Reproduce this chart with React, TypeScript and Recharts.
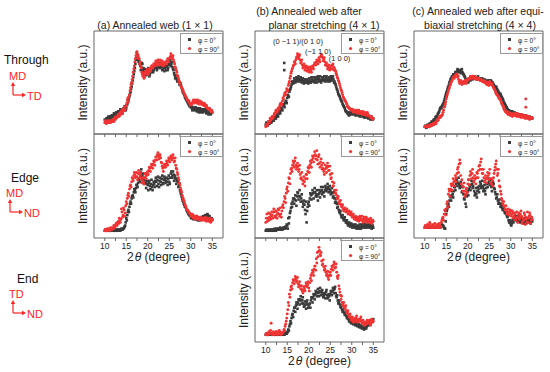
import React from 'react';
import { ScatterChart, Scatter, XAxis, YAxis, ReferenceArea } from 'recharts';

const FONT = '"Liberation Sans", Arial, Helvetica, sans-serif';
const GRAY = '#3a3a3a';
const RED = '#f03434';
const SIDE_RED = '#ff2424';

// 2θ (degree) sampling: main readings and in-between readings
const twoTheta = [10,10.25,10.5,10.75,11,11.25,11.5,11.75,12,12.25,12.5,12.75,13,13.25,13.5,13.75,14,14.25,14.5,14.75,15,15.25,15.5,15.75,16,16.25,16.5,16.75,17,17.25,17.5,17.75,18,18.25,18.5,18.75,19,19.25,19.5,19.75,20,20.25,20.5,20.75,21,21.25,21.5,21.75,22,22.25,22.5,22.75,23,23.25,23.5,23.75,24,24.25,24.5,24.75,25,25.25,25.5,25.75,26,26.25,26.5,26.75,27,27.25,27.5,27.75,28,28.25,28.5,28.75,29,29.25,29.5,29.75,30,30.25,30.5,30.75,31,31.25,31.5,31.75,32,32.25,32.5,32.75,33,33.25,33.5,33.75,34,34.25,34.5,34.75,35];
const twoThetaMid = [10.125,10.375,10.625,10.875,11.125,11.375,11.625,11.875,12.125,12.375,12.625,12.875,13.125,13.375,13.625,13.875,14.125,14.375,14.625,14.875,15.125,15.375,15.625,15.875,16.125,16.375,16.625,16.875,17.125,17.375,17.625,17.875,18.125,18.375,18.625,18.875,19.125,19.375,19.625,19.875,20.125,20.375,20.625,20.875,21.125,21.375,21.625,21.875,22.125,22.375,22.625,22.875,23.125,23.375,23.625,23.875,24.125,24.375,24.625,24.875,25.125,25.375,25.625,25.875,26.125,26.375,26.625,26.875,27.125,27.375,27.625,27.875,28.125,28.375,28.625,28.875,29.125,29.375,29.625,29.875,30.125,30.375,30.625,30.875,31.125,31.375,31.625,31.875,32.125,32.375,32.625,32.875,33.125,33.375,33.625,33.875,34.125,34.375,34.625,34.875];
const xTicks = [10, 12.5, 15, 17.5, 20, 22.5, 25, 27.5, 30, 32.5, 35];
const legendLabels = ['φ = 0°', 'φ = 90°'];

// (a) Annealed web — Through
const a1Gray = [14,12,15,16,15,17,16,18,17,19,18,20, 19,21,22,21,23,24,23,26,25,29,33,37, 41,46,52,58,64,72,78,75,72,66,65,68, 64,60,61,58,60,62,58,63,62,60,64,66, 67,64,66,68,65,67,63,66,64,62,66,64, 67,70,68,65,62,57,55,53,54,51,50,47, 43,40,38,35,33,31,29,27,26,25,24,25, 24,25,23,24,23,24,22,23,24,22,23,21, 22,20,21,20,21];
const a1GrayMid = [11,15,13,17,14,15,18,16,20,17,21,18, 22,20,24,22,20,25,27,23,28,31,35,39, 44,49,55,61,68,75,72,70,68,62,69,62, 58,63,57,61,64,56,61,60,64,62,67,64, 62,69,65,64,69,62,65,61,67,65,62,68, 72,66,70,63,59,54,57,51,52,48,49,45, 41,39,36,34,32,30,28,28,27,23,26,23, 26,22,25,21,25,21,24,21,23,24,20,22, 19,22,19,22];
const a1Red = [11,12,11,13,11,12,13,12,13,15,14,17, 17,18,20,19,23,22,25,24,28,33,31,38, 45,50,56,63,70,76,80,77,73,70,64,58, 57,55,61,59,62,60,64,63,66,65,67,69, 70,68,71,69,70,68,69,67,68,70,71,72, 73,75,76,74,72,68,64,60,56,52,49,46, 44,42,39,37,35,33,31,30,28,29,31,32, 32,31,32,30,31,30,31,29,28,29,27,26, 25,24,23,22,21];
const a1RedMid = [13,10,12,11,13,11,12,14,12,16,15,16, 19,17,21,22,20,24,23,27,30,35,36,42, 48,53,60,66,73,79,75,74,68,66,60,56, 54,59,58,63,58,63,61,66,64,68,66,71, 67,72,67,72,67,71,66,69,70,68,73,70, 74,78,73,76,70,65,62,57,54,50,47,45, 43,40,38,36,34,32,32,29,30,30,33,30, 33,30,33,29,32,29,30,28,30,27,28,25, 24,25,22,23];
// (a) Edge
const a2Gray = [7,7,8,7,7,8,7,7, 7,8,7,8,8,7,8,8, 8,9,10,12,19,22,27,30, 35,38,41,44,46,48,51,53, 56,60,66,60,57,55,53,52, 51,53,50,52,49,51,52,55, 54,56,52,55,54,57,53,56, 57,55,54,57,54,58,64,60, 61,58,57,55,54,50,46,42, 38,35,32,30,27,25,23,22, 20,21,19,20,19,20,18,19, 18,19,19,20,19,21,20,22, 22,20,19,18,18];
const a2GrayMid = [8,7,7,8,7,7,8,7, 8,7,8,7,8,8,7,9, 8,9,11,15,17,25,25,33, 33,40,39,47,44,51,49,57, 54,63,58,62,52,58,48,55, 46,55,47,56,46,54,49,58, 50,59,49,58,51,60,52,59, 53,58,51,60,52,62,58,64, 55,60,52,57,49,52,44,40, 36,33,30,29,26,24,22,23, 19,22,18,21,18,21,17,20, 17,20,18,21,18,22,19,23, 20,21,17,19];
const a2Red = [7,8,7,8,9,8,9,10, 9,11,12,13,15,14,17,18, 25,22,27,24,35,38,43,47, 51,54,57,60,61,59,59,62, 62,60,57,55,54,58,61,60, 64,65,67,68,70,71,73,75, 78,80,79,78,77,72,67,68, 70,71,72,74,75,77,78,77, 77,74,70,66,61,56,51,46, 41,38,35,31,28,27,25,24, 22,21,22,20,20,19,20,19, 19,18,19,18,18,19,18,17, 18,17,18,16,17];
const a2RedMid = [8,7,9,8,7,10,8,9, 12,10,14,12,16,19,15,28, 20,29,21,31,33,41,40,50, 49,58,55,63,58,63,56,65, 58,63,53,58,52,62,57,63, 61,68,64,71,67,74,70,78, 75,82,76,80,73,69,64,71, 68,74,70,77,73,79,75,80, 73,77,67,63,58,53,48,44, 39,36,33,30,27,26,24,23, 21,23,19,21,18,21,18,20, 17,20,17,19,17,20,16,19, 16,19,15,18];
// (b) planar stretching — Through
const b1Gray = [9,10,9,11,12,11,13,14, 15,16,17,18,20,21,23,24, 27,28,30,32,35,37,41,44, 48,50,51,52,52,53,54,53, 52,53,52,51,51,52,50,51, 51,52,50,53,52,51,53,52, 53,54,53,52,52,54,53,51, 54,53,52,53,52,54,54,53, 51,48,44,41,38,36,33,31, 28,26,23,22,20,19,19,20, 20,21,20,20,20,19,20,19, 19,18,19,18,18,17,18,17, 16,16,15,15,15];
const b1GrayMid = [11,8,12,10,13,12,15,13, 17,15,19,17,22,20,25,23, 29,26,32,30,38,36,43,46, 51,49,54,50,55,51,56,51, 55,50,54,49,53,50,53,49, 54,50,55,51,55,50,55,50, 56,51,56,50,55,52,56,52, 56,51,55,51,56,52,56,50, 49,46,43,39,37,34,32,29, 27,25,22,21,21,18,21,19, 22,19,22,18,21,18,21,17, 20,17,20,16,19,16,19,15, 17,14,16,14];
const b1Red = [7,9,10,12,15,14,17,16, 20,21,23,22,25,27,30,29, 35,37,40,41,43,47,51,56, 61,64,67,70,72,75,77,75, 72,70,67,66,65,64,64,63, 62,63,62,64,65,67,69,70, 70,71,72,75,77,74,72,70, 67,66,65,64,64,66,67,65, 64,61,57,54,51,47,43,40, 36,34,32,30,27,26,25,24, 23,23,22,22,22,21,22,21, 21,20,21,20,20,19,20,19, 18,17,16,15,15];
const b1RedMid = [9,8,12,11,13,16,15,18, 19,23,21,25,24,29,28,32, 34,39,38,44,42,49,54,59, 63,66,70,68,74,78,73,77, 69,72,64,68,62,66,61,65, 60,65,60,66,63,69,67,72, 68,74,70,77,75,71,74,67, 69,63,67,62,66,63,68,62, 62,59,55,52,49,45,42,38, 35,33,31,29,26,25,24,23, 24,21,23,21,23,20,23,20, 22,19,22,19,21,18,21,18, 17,16,17,14];
const b1GrayExtraX = [14.3, 14.3];
const b1GrayExtraY = [69, 62];
// (b) Edge
const b2Gray = [7,7,8,7,7,8,7,8, 8,8,9,8,9,9,8,9, 9,10,9,10,12,19,20,26, 33,35,38,37,36,40,43,40, 40,38,35,33,32,23,15,30, 35,38,41,42,43,44,44,42, 40,42,43,45,46,44,44,46, 48,47,49,47,46,44,43,40, 38,35,33,30,27,24,22,20, 19,18,17,15,14,13,13,12, 12,11,12,11,10,11,10,11, 10,11,12,11,12,11,12,11, 11,12,11,10,10];
const b2GrayMid = [8,7,7,8,8,7,8,7, 9,7,8,9,8,10,9,8, 10,9,11,13,9,14,24,29, 30,38,33,41,31,44,37,46, 35,42,30,36,27,35,26,33, 31,43,37,46,38,48,40,46, 36,46,39,49,42,49,40,50, 45,52,44,50,42,48,39,44, 34,38,29,33,25,26,20,22, 17,20,15,17,12,15,11,14, 10,13,10,13,9,12,9,13, 9,13,10,14,10,13,10,13, 10,13,9,12];
const b2Red = [15,23,19,17,23,21,22,25, 25,20,22,24,27,21,23,26, 32,35,38,43,49,53,57,62, 67,70,72,74,70,68,69,66, 61,58,56,55,54,57,61,64, 67,70,72,75,77,79,80,79, 75,78,72,73,70,67,64,66, 67,68,69,65,61,58,54,50, 46,43,41,38,35,33,32,30, 28,27,27,26,25,24,24,23, 22,21,20,19,19,18,17,19, 19,18,17,18,19,17,18,16, 17,18,16,15,16];
const b2RedMid = [19,16,24,20,18,25,19,28, 21,26,19,28,23,29,20,30, 29,40,34,47,45,58,52,66, 64,74,68,77,66,72,64,70, 57,63,52,59,50,61,57,68, 63,74,68,79,73,83,76,84, 71,80,68,76,66,72,61,70, 63,72,65,69,57,62,50,53, 43,46,38,40,33,36,30,32, 26,29,25,28,23,26,22,25, 20,23,18,21,17,20,16,21, 17,21,15,20,16,20,15,18, 15,19,14,17];
// (b) End
const b3Gray = [7,7,7,7,7,7,7,7, 7,7,7,7,7,7,7,8, 7,8,8,8,9,12,15,20, 23,27,30,33,35,36,38,40, 41,40,40,37,35,36,38,36, 33,37,40,42,43,45,46,47, 48,47,49,48,48,46,44,46, 48,45,43,44,46,48,49,50, 51,47,43,40,38,36,33,31, 30,28,27,25,23,22,20,19, 19,18,18,17,17,16,16,15, 15,14,14,13,13,14,15,17, 17,19,20,21,22];
const b3GrayMid = [8,7,8,7,8,7,8,7, 8,7,8,7,8,7,8,7, 8,7,9,8,10,11,17,18, 26,24,33,29,38,32,41,36, 44,37,43,34,39,32,40,33, 36,33,43,38,46,41,49,44, 51,44,52,45,50,43,47,42, 50,42,46,40,49,45,52,47, 53,44,45,37,40,34,35,29, 32,26,29,23,25,20,22,18, 20,17,19,16,18,15,17,14, 16,13,15,12,14,13,16,16, 18,18,21,20];
const b3Red = [7,8,7,10,8,18,7,10, 7,8,10,7,8,10,7,8, 9,12,15,20,27,38,46,50, 54,57,59,60,61,59,56,55, 54,51,49,50,51,54,56,55, 52,57,64,66,67,70,73,80, 86,87,88,83,78,75,72,70, 67,65,62,64,67,70,72,74, 75,72,67,61,54,48,41,38, 36,34,33,30,28,26,25,23, 22,21,20,22,23,21,20,22, 22,20,19,18,17,19,18,20, 19,18,20,21,20];
const b3RedMid = [8,7,9,8,11,8,9,8, 8,10,8,9,11,8,9,8, 10,11,17,23,31,35,43,53, 51,60,56,63,58,62,53,58, 51,54,47,53,49,57,53,58, 49,61,59,69,64,73,69,76, 82,91,84,86,74,79,69,73, 64,68,60,67,64,73,69,77, 71,75,63,64,51,45,44,35, 38,32,35,28,30,24,27,21, 24,19,23,20,25,19,22,20, 24,18,21,16,19,17,21,18, 21,16,22,19];
// (c) equi-biaxial stretching — Through
const c1Gray = [7,7,8,8,9,10,11,12, 13,14,16,17,19,21,24,26, 27,29,32,36,40,43,46,50, 53,55,56,57,58,60,61,62, 60,61,62,60,58,56,53,52, 51,52,53,54,54,55,55,54, 54,55,54,53,53,53,52,52, 51,51,50,51,52,51,51,50, 48,46,45,44,42,40,38,37, 35,33,30,28,26,24,22,22, 22,21,20,20,19,19,19,18, 19,18,18,17,18,17,17,16, 17,16,16,16,15];
const c1GrayMid = [8,6,9,7,10,9,12,11, 14,13,17,16,20,22,25,25, 28,30,34,38,41,45,48,51, 54,56,58,56,60,59,63,61, 62,59,63,59,57,55,52,53, 50,53,52,55,53,56,54,55, 53,56,53,54,52,54,51,53, 50,52,49,52,51,52,50,49, 47,45,46,43,41,39,39,36, 34,31,29,27,25,23,23,21, 21,22,19,21,18,20,18,19, 18,19,17,18,17,18,16,17, 16,17,15,16];
const c1Red = [7,7,7,7,8,8,9,9, 10,10,11,12,14,15,17,17, 18,21,26,29,34,38,42,45, 48,51,54,55,56,57,58,56, 51,50,50,49,51,50,50,51, 53,54,54,55,55,55,55,54, 54,54,53,53,52,52,51,51, 50,49,49,48,50,49,48,47, 45,43,40,38,37,35,34,31, 29,27,24,22,21,20,20,19, 19,18,19,19,19,18,19,18, 18,17,18,17,17,16,17,16, 16,15,15,16,16];
const c1RedMid = [7,8,7,8,7,9,8,10, 9,11,10,13,13,16,16,18, 19,23,27,31,36,40,44,47, 50,52,55,54,57,58,55,53, 49,52,48,50,49,52,49,52, 54,53,56,54,56,54,56,53, 55,53,54,52,53,51,52,50, 51,48,50,47,51,48,49,46, 44,42,39,38,36,34,33,30, 28,25,23,21,22,19,21,18, 20,17,20,18,20,17,20,17, 19,16,19,16,18,15,18,15, 17,14,16,15];
const c1RedExtraX = [33.5, 33.5];
const c1RedExtraY = [34, 26];
// (c) Edge
const c2Gray = [10,10,10,10,10,10,10,10, 10,10,10,10,11,10,11,11, 13,12,10,9,23,28,33,36, 39,41,42,45,49,52,55,53, 52,50,49,45,42,37,33,40, 45,47,49,51,52,50,45,43, 42,45,47,50,52,50,49,47, 45,48,52,53,55,52,49,50, 52,47,42,39,36,34,33,31, 29,28,26,24,23,20,17,15, 13,14,18,19,20,19,18,19, 18,17,18,17,16,17,16,17, 17,16,17,16,16];
const c2GrayMid = [10,10,10,10,10,10,10,10, 10,10,10,11,10,11,10,12, 12,11,9,16,26,31,30,40, 36,45,39,49,46,56,50,58, 48,54,44,49,38,42,30,44, 41,51,46,55,48,54,41,48, 39,49,44,54,48,55,45,51, 42,52,49,57,51,56,45,54, 48,44,38,42,33,37,30,33, 27,30,24,26,21,22,15,17, 12,16,15,21,17,21,16,21, 15,19,15,19,14,19,14,19, 15,18,14,18];
const c2Red = [10,10,10,12,12,14,10,10, 13,10,11,10,13,10,12,11, 17,20,23,26,28,35,42,45, 47,50,52,54,55,58,62,68, 71,72,52,50,49,45,42,48, 52,56,60,61,62,58,55,57, 58,62,65,70,73,66,62,58, 55,57,58,60,62,57,52,55, 58,65,71,66,62,55,49,42, 36,32,30,28,26,25,25,24, 26,23,24,21,23,19,20,22, 18,23,21,16,17,22,20,15, 15,21,22,17,18];
const c2RedMid = [12,10,13,10,15,10,12,10, 11,14,10,12,10,14,10,15, 19,17,27,22,33,30,47,40, 52,46,57,50,60,54,66,63, 75,60,56,45,53,40,47,44, 56,51,64,57,66,54,60,52, 63,58,69,66,76,62,66,54, 60,53,63,56,66,53,57,50, 62,68,74,60,66,50,45,38, 33,35,27,31,23,28,22,27, 21,26,19,24,17,25,15,24, 20,26,14,19,24,13,18,25, 19,24,14,20];

const PW = 129;

type Pt = { x: number; y: number };
const toPoints = (xs: number[], ys: number[]): Pt[] => ys.map((y, i) => ({ x: xs[i], y }));

const SquareShape = (props: any) => (
  <rect x={props.cx - 1.3} y={props.cy - 1.3} width={2.6} height={2.6} fill={GRAY} />
);
const CircleShape = (props: any) => (
  <circle cx={props.cx} cy={props.cy} r={1.45} fill={RED} />
);

const XLabel = (props: any) => {
  const vb = props.viewBox || { x: 0, y: 0, width: 0 };
  return (
    <text x={vb.x + vb.width / 2} y={vb.y + 23} textAnchor="middle" fontSize={12} fill="#222" fontFamily={FONT}>
      2<tspan dx={1} fontStyle="italic">θ</tspan> (degree)
    </text>
  );
};

type PanelProps = {
  left: number; top: number; h: number;
  gray: number[]; grayMid: number[]; red: number[]; redMid: number[]; bottom?: boolean;
  grayExtra?: Pt[]; redExtra?: Pt[];
};

function Panel({ left, top, h, gray, grayMid, red, redMid, bottom, grayExtra, redExtra }: PanelProps) {
  const ML = 22, MR = 2, MT = 1;
  const axisH = bottom ? 30 : 5;
  const grayPts = [...toPoints(twoTheta, gray), ...toPoints(twoThetaMid, grayMid), ...(grayExtra || [])];
  const redPts = [...toPoints(twoTheta, red), ...toPoints(twoThetaMid, redMid), ...(redExtra || [])];
  return (
    <div style={{ position: 'absolute', left: left - ML, top: top - MT }}>
      <ScatterChart width={ML + PW + MR} height={MT + h + axisH} margin={{ top: MT, right: MR, left: 0, bottom: 0 }}>
        <XAxis
          type="number" dataKey="x" domain={[7.5, 37.5]} ticks={xTicks} interval={0}
          tickSize={3} tickMargin={2} height={axisH} axisLine={false}
          tickLine={{ stroke: '#666' }}
          tick={{ fontSize: 8.5, fill: '#222', fontFamily: FONT }}
          tickFormatter={(v: number) => (bottom && v % 5 === 0 ? String(v) : '')}
          label={bottom ? (p: any) => <XLabel {...p} /> : undefined}
        />
        <YAxis
          type="number" dataKey="y" domain={[0, 100]} width={ML} tick={false} axisLine={false} tickLine={false}
          label={{ value: 'Intensity (a.u.)', angle: -90, position: 'center', fontSize: 12, fill: '#222', fontFamily: FONT }}
        />
        <ReferenceArea x1={7.5} x2={37.5} y1={0} y2={100} fill="none" stroke="#666" strokeWidth={1} />
        <Scatter data={grayPts} shape={SquareShape} isAnimationActive={false} />
        <Scatter data={redPts} shape={CircleShape} isAnimationActive={false} />
      </ScatterChart>
    </div>
  );
}

const panelFrames = [
  { left: 94, top: 31, h: 103 },
  { left: 94, top: 134, h: 104 },
  { left: 255, top: 31, h: 103 },
  { left: 255, top: 134, h: 104 },
  { left: 255, top: 238, h: 104 },
  { left: 414, top: 31, h: 103 },
  { left: 414, top: 134, h: 104 },
];

function LegendBox({ left, top }: { left: number; top: number }) {
  const bx = left + PW - 43, by = top + 2;
  return (
    <g>
      <rect x={bx + 0.5} y={by + 0.5} width={42} height={20} fill="#fff" stroke="#999" />
      <rect x={bx + 8} y={by + 5} width={3} height={3} fill={GRAY} />
      <text x={bx + 18} y={by + 7} fontSize={6.5} fill="#222" dominantBaseline="central" fontFamily={FONT}>{legendLabels[0]}</text>
      <circle cx={bx + 9.5} cy={by + 15.5} r={1.6} fill={RED} />
      <text x={bx + 18} y={by + 16} fontSize={6.5} fill="#222" dominantBaseline="central" fontFamily={FONT}>{legendLabels[1]}</text>
    </g>
  );
}

function AxesGlyph({ x, y, top: t, right: r }: { x: number; y: number; top: string; right: string }) {
  return (
    <g>
      <text x={x - 4} y={y - 19} fontSize={11} fill={SIDE_RED} dominantBaseline="central" fontFamily={FONT}>{t}</text>
      <line x1={x} y1={y} x2={x} y2={y - 10} stroke={SIDE_RED} strokeWidth={1.2} />
      <polygon points={`${x},${y - 13} ${x - 2.2},${y - 9} ${x + 2.2},${y - 9}`} fill={SIDE_RED} />
      <line x1={x} y1={y} x2={x + 9} y2={y} stroke={SIDE_RED} strokeWidth={1.2} />
      <polygon points={`${x + 13},${y} ${x + 9},${y - 2.2} ${x + 9},${y + 2.2}`} fill={SIDE_RED} />
      <text x={x + 14} y={y + 0.5} fontSize={11} fill={SIDE_RED} dominantBaseline="central" fontFamily={FONT}>{r}</text>
    </g>
  );
}

export default function App() {
  return (
    <div style={{ position: 'absolute', left: 0, top: 0, width: 550, height: 372, background: '#fff', overflow: 'hidden', fontFamily: FONT }}>
      <Panel {...panelFrames[0]} gray={a1Gray} grayMid={a1GrayMid} red={a1Red} redMid={a1RedMid} />
      <Panel {...panelFrames[1]} gray={a2Gray} grayMid={a2GrayMid} red={a2Red} redMid={a2RedMid} bottom />
      <Panel {...panelFrames[2]} gray={b1Gray} grayMid={b1GrayMid} red={b1Red} redMid={b1RedMid} grayExtra={toPoints(b1GrayExtraX, b1GrayExtraY)} />
      <Panel {...panelFrames[3]} gray={b2Gray} grayMid={b2GrayMid} red={b2Red} redMid={b2RedMid} />
      <Panel {...panelFrames[4]} gray={b3Gray} grayMid={b3GrayMid} red={b3Red} redMid={b3RedMid} bottom />
      <Panel {...panelFrames[5]} gray={c1Gray} grayMid={c1GrayMid} red={c1Red} redMid={c1RedMid} redExtra={toPoints(c1RedExtraX, c1RedExtraY)} />
      <Panel {...panelFrames[6]} gray={c2Gray} grayMid={c2GrayMid} red={c2Red} redMid={c2RedMid} bottom />
      <svg width={550} height={372} style={{ position: 'absolute', left: 0, top: 0, pointerEvents: 'none' }} fontFamily={FONT}>
        {panelFrames.map((f, i) => <LegendBox key={i} left={f.left} top={f.top} />)}
        <g fontSize={10.5} fill="#222" textAnchor="middle" dominantBaseline="central">
          <text x={155} y={25}>(a) Annealed web (1 × 1)</text>
          <text x={309} y={11}>(b) Annealed web after</text>
          <text x={324} y={25}>planar stretching (4 × 1)</text>
          <text x={478} y={11}>(c) Annealed web after equi-</text>
          <text x={480} y={25}>biaxial stretching (4 × 4)</text>
        </g>
        <g fontSize={7.5} fill="#222" textAnchor="middle" dominantBaseline="central">
          <text x={298} y={41}>(0 −1 1)/(0 1 0)</text>
          <text x={318} y={51}>(−1 1 0)</text>
          <text x={339.5} y={58.5}>(1 0 0)</text>
        </g>
        <g fontSize={12} fill="#111" dominantBaseline="central">
          <text x={4} y={60}>Through</text>
          <text x={11} y={178}>Edge</text>
          <text x={17} y={279}>End</text>
        </g>
        <AxesGlyph x={13} y={95} top="MD" right="TD" />
        <AxesGlyph x={10} y={212} top="MD" right="ND" />
        <AxesGlyph x={13} y={313} top="TD" right="ND" />
      </svg>
    </div>
  );
}
